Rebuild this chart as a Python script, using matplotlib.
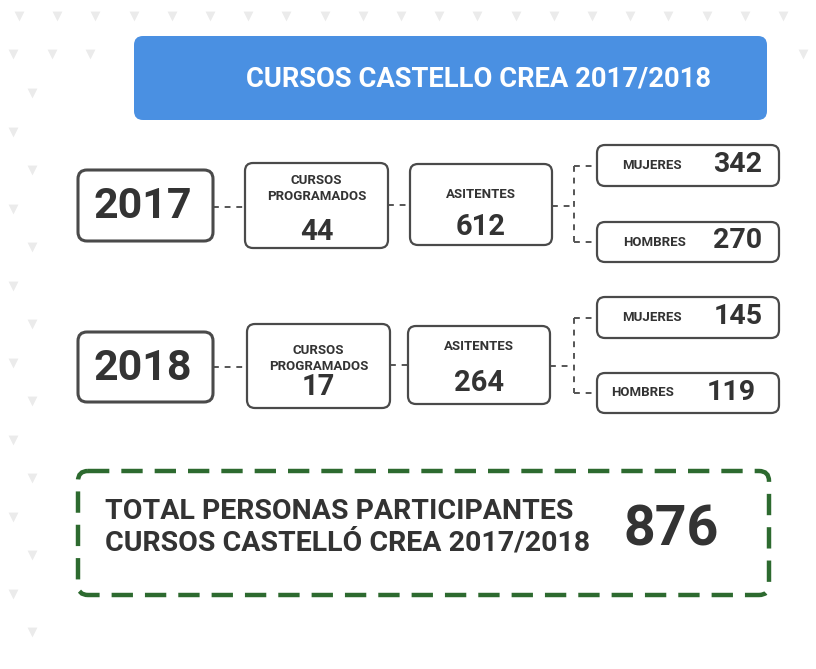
import matplotlib.pyplot as plt
from matplotlib.patches import FancyBboxPatch

# data
years = ["2017", "2018"]
cursos = [44, 17]
asistentes = [612, 264]
mujeres = [342, 145]
hombres = [270, 119]
total = 876
title = "CURSOS CASTELLO CREA 2017/2018"
total_label = "TOTAL PERSONAS PARTICIPANTES\nCURSOS CASTELLÓ CREA 2017/2018"

plt.rcParams['font.family'] = ['Roboto', 'DejaVu Sans']

dark = "#333333"
edge = "#4a4a4a"
blue = "#4a90e2"
green = "#2d6a2f"
tri = "#ebebeb"

fig = plt.figure(figsize=(8.16, 6.69), dpi=100)
ax = fig.add_axes([0, 0, 1, 1])
ax.set_xlim(0, 816)
ax.set_ylim(669, 0)
ax.axis("off")

# faint background triangles
tx = [19 + 38.2 * i for i in range(21)]
ax.scatter(tx, [16] * len(tx), marker="v", s=50, color=tri, linewidths=0)
ax.scatter([13, 52, 90, 803], [54] * 4, marker="v", s=50, color=tri, linewidths=0)
ly = [93 + 38.5 * i for i in range(15)]
lx = [32 if i % 2 == 0 else 13 for i in range(15)]
ax.scatter(lx, ly, marker="v", s=50, color=tri, linewidths=0)


def box(x0, y0, x1, y1, fc="white", ec=edge, lw=1.6, r=8, ls="-"):
    p = FancyBboxPatch((x0, y0), x1 - x0, y1 - y0,
                       boxstyle="round,pad=0,rounding_size=%d" % r,
                       fc=fc, ec=ec, lw=lw, ls=ls, zorder=2)
    ax.add_patch(p)


def dash(xs, ys):
    ax.plot(xs, ys, color="#555555", lw=1.4, ls=(0, (3, 3)), zorder=1)


# header
box(134, 36, 767, 120, fc=blue, ec=blue, lw=0, r=9)
ax.text(478, 79, title, color="white", fontsize=19.7, fontweight="bold",
        ha="center", va="center", zorder=3)

# rows layout (pixel geometry per row)
rows = [
    dict(yb=(170, 241), cb=(245, 163, 388, 248), ab=(410, 164, 552, 245),
         mb=(597, 145, 779, 186), hb=(597, 222, 779, 262),
         cl1=180, cl2=196, cn=232, al=195, an=227, ly=207, ay=206),
    dict(yb=(332, 402), cb=(247, 324, 390, 408), ab=(408, 326, 550, 404),
         mb=(597, 297, 779, 338), hb=(597, 373, 779, 413),
         cl1=350, cl2=366, cn=387, al=346, an=383, ly=367, ay=366),
]

for i, r in enumerate(rows):
    y0, y1 = r["yb"]
    box(78, y0, 213, y1, lw=2.2, r=9)
    ax.text(143, (y0 + y1) / 2 + 1, years[i], color=dark, fontsize=31,
            fontweight="bold", ha="center", va="center", zorder=3)

    cx0, cy0, cx1, cy1 = r["cb"]
    box(cx0, cy0, cx1, cy1)
    cx = (cx0 + cx1) / 2
    ax.text(cx, r["cl1"], "CURSOS", color=dark, fontsize=9.5, fontweight="bold",
            ha="center", va="center", zorder=3)
    ax.text(cx, r["cl2"], "PROGRAMADOS", color=dark, fontsize=9.5,
            fontweight="bold", ha="center", va="center", zorder=3)
    ax.text(cx, r["cn"], str(cursos[i]), color=dark, fontsize=21,
            fontweight="bold", ha="center", va="center", zorder=3)

    ax0, ay0, ax1, ay1 = r["ab"]
    box(ax0, ay0, ax1, ay1)
    axc = (ax0 + ax1) / 2
    ax.text(axc, r["al"], "ASITENTES", color=dark, fontsize=9.5,
            fontweight="bold", ha="center", va="center", zorder=3)
    ax.text(axc, r["an"], str(asistentes[i]), color=dark, fontsize=21,
            fontweight="bold", ha="center", va="center", zorder=3)

    mx0, my0, mx1, my1 = r["mb"]
    box(mx0, my0, mx1, my1)
    my = (my0 + my1) / 2
    ax.text(652, my, "MUJERES", color=dark, fontsize=9.5, fontweight="bold",
            ha="center", va="center", zorder=3)
    ax.text(738, my - 1, str(mujeres[i]), color=dark, fontsize=20.5,
            fontweight="bold", ha="center", va="center", zorder=3)

    hx0, hy0, hx1, hy1 = r["hb"]
    box(hx0, hy0, hx1, hy1)
    hy = (hy0 + hy1) / 2
    ax.text(655 if i == 0 else 643, hy, "HOMBRES", color=dark, fontsize=9.5,
            fontweight="bold", ha="center", va="center", zorder=3)
    ax.text(738 if i == 0 else 731, hy - 1, str(hombres[i]), color=dark,
            fontsize=20.5, fontweight="bold", ha="center", va="center", zorder=3)

    # connectors
    dash([213, cx0], [r["ly"], r["ly"]])
    dash([cx1, ax0], [r["ay"] - 1, r["ay"] - 1])
    dash([ax1, 574], [r["ay"], r["ay"]])
    dash([574, 574], [my, hy])
    dash([574, mx0], [my, my])
    dash([574, hx0], [hy, hy])

# total box
box(78, 471, 769, 595, ec=green, lw=3.2, r=10, ls=(0, (4.8, 2.7)))
ax.text(105, 527, total_label, color=dark, fontsize=20.5, fontweight="bold",
        ha="left", va="center", linespacing=1.2, zorder=3)
ax.text(671, 530, str(total), color=dark, fontsize=40, fontweight="bold",
        ha="center", va="center", zorder=3)

fig.savefig("out.png", dpi=100, facecolor="white")
